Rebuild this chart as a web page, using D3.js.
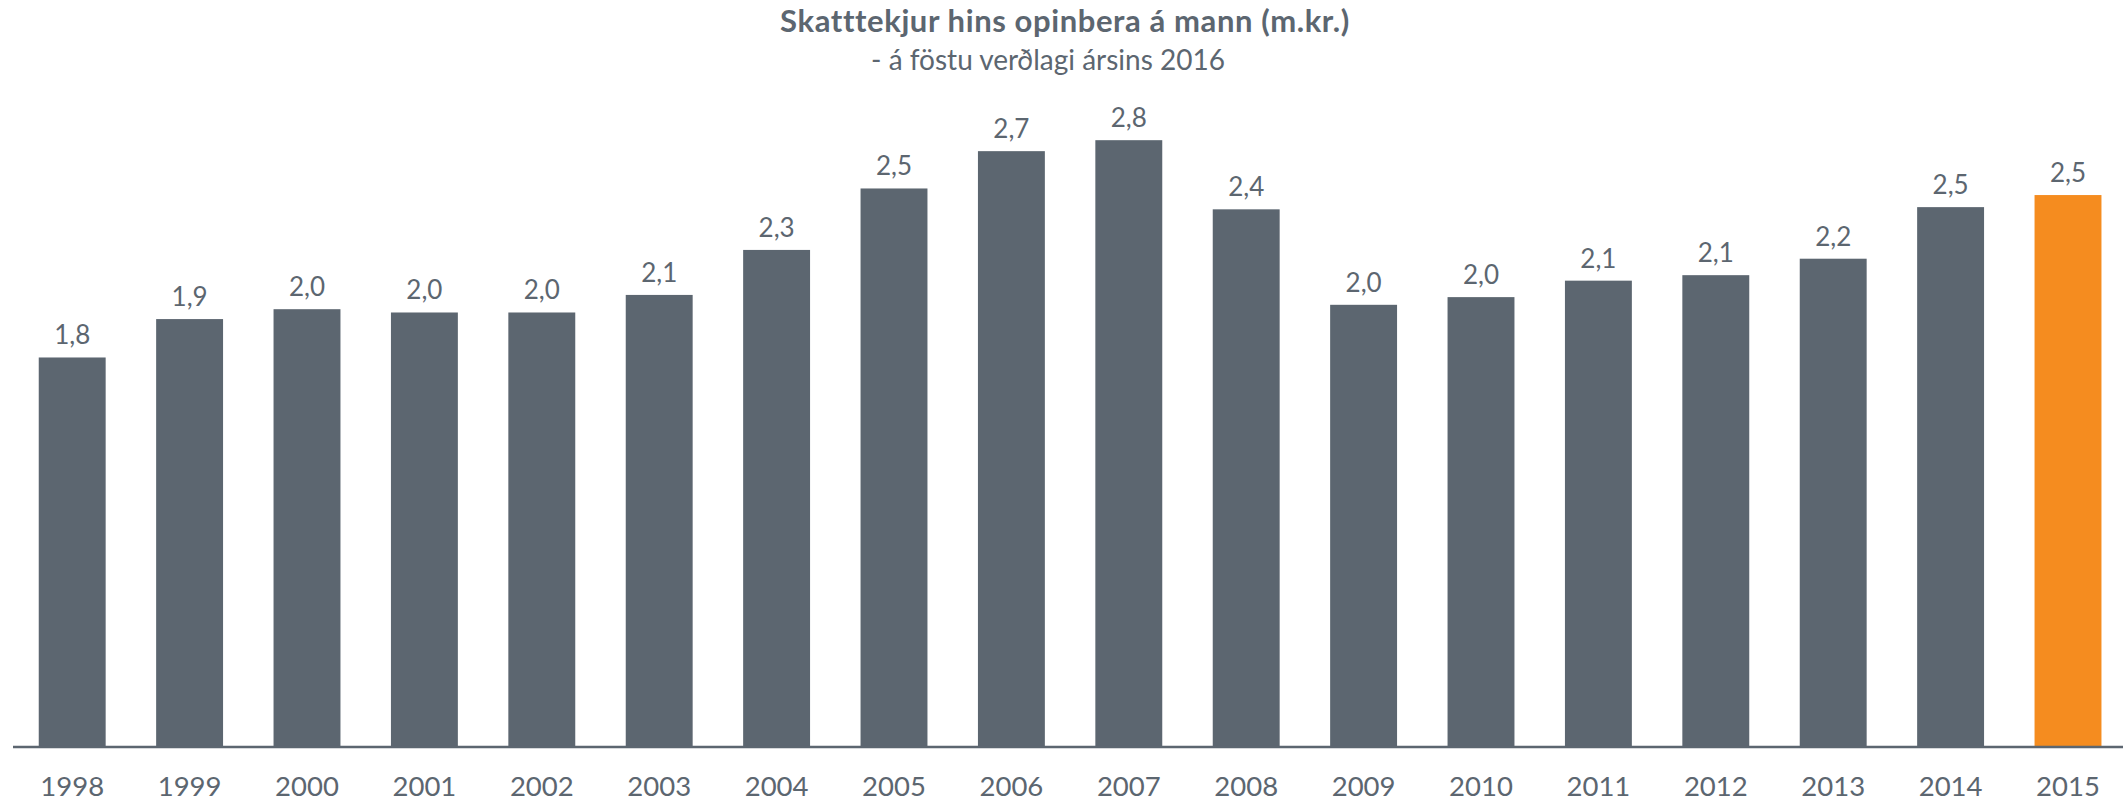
<!DOCTYPE html>
<html lang="is">
<head>
    <meta charset="UTF-8">
    <title>Skatttekjur hins opinbera á mann</title>
    <script src="https://unpkg.com/d3@7.8.5/dist/d3.min.js"></script>
    <style>
        * { margin: 0; padding: 0; box-sizing: border-box; }
        body { background: #fff; }
        svg { display: block; font-family: Lato, "Open Sans", sans-serif; }
    </style>
</head>
<body>
    <svg class="chart"></svg>
    <script>
        // gögn lesin af myndinni (m.kr. á mann)
        const years = ['1998', '1999', '2000', '2001', '2002', '2003', '2004', '2005', '2006',
            '2007', '2008', '2009', '2010', '2011', '2012', '2013', '2014', '2015']
        const values = [1.77, 1.945, 1.99, 1.975, 1.975, 2.055, 2.26, 2.54, 2.71,
            2.76, 2.445, 2.01, 2.045, 2.12, 2.145, 2.22, 2.455, 2.51]
        const highlightYear = '2015'
        const title = 'Skatttekjur hins opinbera á mann (m.kr.)'
        const subtitle = '- á föstu verðlagi ársins 2016'

        const width = 2123
        const height = 803
        const baseY = 746
        const grey = '#5c6670'
        const orange = '#f58c1f'

        const svg = d3.select('.chart')
            .attr('width', width)
            .attr('height', height)

        const x = d3.scaleBand()
            .domain(years)
            .range([13.5, 2126.7])
            .paddingInner(0.43)
            .paddingOuter(0.215)

        const y = d3.scaleLinear()
            .domain([0, 3])
            .range([baseY, baseY - 3 * 219.5])

        const isFormat = d3.formatLocale({ decimal: ',', thousands: '.', grouping: [3], currency: ['', ' kr.'] }).format('.1f')

        const rows = years.map((yr, i) => ({ year: yr, value: values[i] }))

        // titill
        svg.append('text')
            .attr('x', 1065)
            .attr('y', 32)
            .attr('text-anchor', 'middle')
            .attr('font-size', 31)
            .attr('font-weight', 700)
            .attr('letter-spacing', 0.6)
            .attr('fill', grey)
            .text(title)

        svg.append('text')
            .attr('x', 1048)
            .attr('y', 70)
            .attr('text-anchor', 'middle')
            .attr('font-size', 28)
            .attr('fill', grey)
            .text(subtitle)

        // súlur
        svg.append('g')
            .selectAll('rect')
            .data(rows)
            .join('rect')
            .attr('x', d => x(d.year))
            .attr('y', d => y(d.value))
            .attr('width', x.bandwidth())
            .attr('height', d => baseY - y(d.value))
            .attr('fill', d => d.year === highlightYear ? orange : grey)

        // gildi ofan á súlum
        svg.append('g')
            .selectAll('text')
            .data(rows)
            .join('text')
            .attr('x', d => x(d.year) + x.bandwidth() / 2)
            .attr('y', d => y(d.value) - 13)
            .attr('text-anchor', 'middle')
            .attr('font-size', 26)
            .attr('fill', grey)
            .text(d => isFormat(d.value))

        // x-ás
        const axis = svg.append('g')
            .attr('transform', `translate(0,${baseY + 1})`)
            .call(d3.axisBottom(x).tickSize(0).tickPadding(29))

        axis.select('.domain')
            .attr('d', `M13,0H${width}`)
            .attr('stroke', grey)
            .attr('stroke-width', 2.5)

        axis.selectAll('text')
            .attr('font-family', 'Lato, "Open Sans", sans-serif')
            .attr('font-size', 27.5)
            .attr('fill', grey)
    </script>
</body>
</html>
